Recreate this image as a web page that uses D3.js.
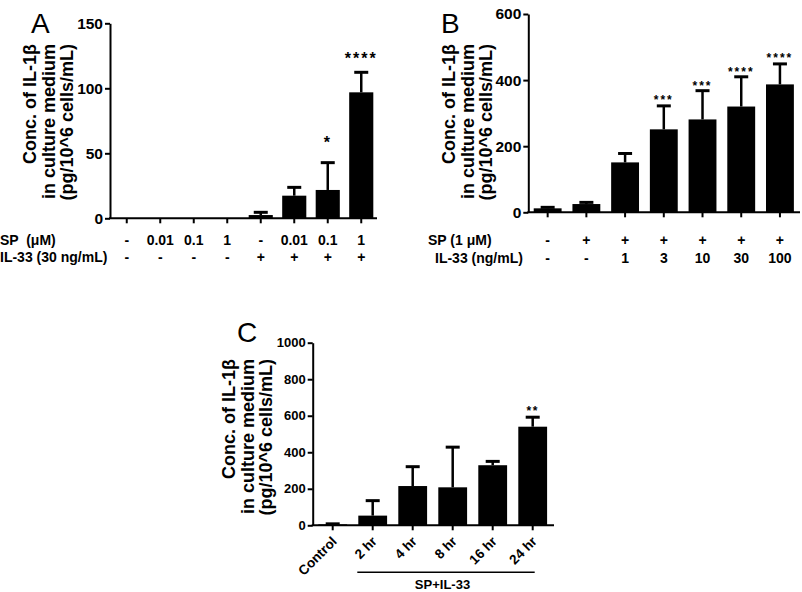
<!DOCTYPE html>
<html><head><meta charset="utf-8">
<script src="https://cdn.jsdelivr.net/npm/d3@7"></script>
<style>
body{margin:0;background:#fff}
svg text{font-family:"Liberation Sans",Arial,sans-serif;fill:#000}
</style>
</head><body>
<svg id="chart" width="802" height="592"></svg>
<script>
// ---------- DATA ----------
const yTitle = ["Conc. of IL-1β", "in culture medium", "(pg/10^6 cells/mL)"];

// Panel A
const aSP    = ["-", "0.01", "0.1", "1", "-", "0.01", "0.1", "1"];
const aIL33  = ["-", "-", "-", "-", "+", "+", "+", "+"];
const aMean  = [0, 0, 0, 0, 2.5, 17.4, 21.8, 96.9];
const aUpper = [0, 0, 0, 0, 4.6, 23.8, 42.8, 112.3];
const aStars = ["", "", "", "", "", "", "*", "****"];
const aStarLevel = [0, 0, 0, 0, 0, 0, 62, 126];
const aTicks = [0, 50, 100, 150];

// Panel B
const bSP    = ["-", "+", "+", "+", "+", "+", "+"];
const bIL33  = ["-", "-", "1", "3", "10", "30", "100"];
const bMean  = [12, 25, 151, 251, 281, 320, 387];
const bUpper = [15, 30, 178, 322, 368, 410, 449];
const bStars = ["", "", "", "***", "***", "****", "****"];
const bStarLevel = [0, 0, 0, 348, 393, 434, 476];
const bTicks = [0, 200, 400, 600];

// Panel C
const cLabels = ["Control", "2 hr", "4 hr", "8 hr", "16 hr", "24 hr"];
const cMean  = [5, 53, 215, 208, 329, 540];
const cUpper = [8, 135, 321, 428, 350, 592];
const cStars = ["", "", "", "", "", "**"];
const cStarLevel = [0, 0, 0, 0, 0, 646];
const cTicks = [0, 200, 400, 600, 800, 1000];
const cGroupLabel = "SP+IL-33";

// ---------- DRAW ----------
const svg = d3.select("#chart");

function panel(o) {
  const g = svg.append("g");
  const n = o.mean.length;
  const x = d3.scaleBand().domain(d3.range(n)).range([o.x0, o.x1])
    .paddingInner(0.28).paddingOuter(0.14);
  const y = d3.scaleLinear().domain([0, o.ymax]).range([o.yb, o.yt]);

  // bars
  g.selectAll("rect.bar").data(o.mean).join("rect")
    .attr("x", (d, i) => x(i)).attr("width", x.bandwidth())
    .attr("y", d => y(d)).attr("height", d => y(0) - y(d))
    .attr("fill", "#000");
  // error bars
  o.upper.forEach((u, i) => {
    if (u <= o.mean[i]) return;
    const cx = x(i) + x.bandwidth() / 2;
    g.append("line").attr("x1", cx).attr("x2", cx)
      .attr("y1", y(o.mean[i])).attr("y2", y(u))
      .attr("stroke", "#000").attr("stroke-width", 2.5);
    g.append("line").attr("x1", cx - 7).attr("x2", cx + 7)
      .attr("y1", y(u)).attr("y2", y(u))
      .attr("stroke", "#000").attr("stroke-width", 3);
  });
  // stars
  o.stars.forEach((s, i) => {
    if (!s) return;
    g.append("text").attr("x", x(i) + x.bandwidth() / 2)
      .attr("y", y(o.starLevel[i])).attr("dy", o.starDy)
      .attr("text-anchor", "middle").attr("font-size", o.starSize)
      .attr("font-weight", "bold").attr("letter-spacing", o.starLs)
      .text(s);
  });

  // y axis
  const ya = g.append("g").attr("transform", `translate(${o.x0},0)`)
    .call(d3.axisLeft(y).tickValues(o.ticks).tickFormat(d3.format("d"))
      .tickSize(5).tickSizeOuter(0).tickPadding(2));
  ya.select(".domain").attr("stroke-width", 2);
  ya.selectAll(".tick line").attr("stroke-width", 2);
  ya.selectAll(".tick text")
    .style("font-size", o.tickSize + "px").style("font-weight", "bold");

  // x axis
  g.append("line").attr("x1", o.x0 - 1).attr("x2", o.xAxisEnd)
    .attr("y1", y(0)).attr("y2", y(0)).attr("stroke", "#000").attr("stroke-width", 2);
  d3.range(n).forEach(i => {
    const cx = x(i) + x.bandwidth() / 2;
    g.append("line").attr("x1", cx).attr("x2", cx)
      .attr("y1", y(0)).attr("y2", y(0) + 5).attr("stroke", "#000").attr("stroke-width", 2);
  });

  // y title
  yTitle.forEach((t, k) => {
    g.append("text")
      .attr("transform", `translate(${o.titleX + k * 18.5},${o.titleTop}) rotate(-90)`)
      .attr("text-anchor", "end").attr("dy", "0.35em")
      .attr("font-size", 18).attr("font-weight", "bold").text(t);
  });
  // panel letter
  g.append("text").attr("x", o.letterX).attr("y", o.letterY)
    .attr("font-size", 28).text(o.letter);
  return {x, y};
}

// Panel A
const A = panel({x0: 110, x1: 378, xAxisEnd: 377, yb: 218.3, yt: 23.3, ymax: 150,
  mean: aMean, upper: aUpper, stars: aStars, starLevel: aStarLevel, starDy: "0.62em",
  starSize: 16, starLs: 2, ticks: aTicks, tickSize: 15.5,
  titleX: 30, titleTop: 44, letter: "A", letterX: 31, letterY: 33});
[[aSP, 245], [aIL33, 262]].forEach(([arr, yy]) => {
  arr.forEach((t, i) => {
    svg.append("text").attr("x", A.x(i) + A.x.bandwidth() / 2).attr("y", yy)
      .attr("text-anchor", "middle").attr("font-size", 14).attr("font-weight", "bold").text(t);
  });
});
svg.append("text").attr("x", 0).attr("y", 245).attr("font-size", 14).attr("font-weight", "bold")
  .style("white-space", "pre").text("SP  (μM)");
svg.append("text").attr("x", 0).attr("y", 262).attr("font-size", 14).attr("font-weight", "bold")
  .text("IL-33 (30 ng/mL)");

// Panel B
const B = panel({x0: 528.3, x1: 799.3, xAxisEnd: 800, yb: 212.3, yt: 14, ymax: 600,
  mean: bMean, upper: bUpper, stars: bStars, starLevel: bStarLevel, starDy: "0.6em",
  starSize: 12, starLs: 2, ticks: bTicks, tickSize: 15.5,
  titleX: 449, titleTop: 44, letter: "B", letterX: 441, letterY: 33});
[[bSP, 244.5], [bIL33, 262.5]].forEach(([arr, yy]) => {
  arr.forEach((t, i) => {
    svg.append("text").attr("x", B.x(i) + B.x.bandwidth() / 2).attr("y", yy)
      .attr("text-anchor", "middle").attr("font-size", 14).attr("font-weight", "bold").text(t);
  });
});
svg.append("text").attr("x", 428).attr("y", 244.5).attr("font-size", 14).attr("font-weight", "bold")
  .text("SP (1 μM)");
svg.append("text").attr("x", 435).attr("y", 262.5).attr("font-size", 14).attr("font-weight", "bold")
  .text("IL-33 (ng/mL)");

// Panel C
const C = panel({x0: 312.7, x1: 552.7, xAxisEnd: 554, yb: 525.3, yt: 342.7, ymax: 1000,
  mean: cMean, upper: cUpper, stars: cStars, starLevel: cStarLevel, starDy: "0.6em",
  starSize: 12, starLs: 1.5, ticks: cTicks, tickSize: 13,
  titleX: 229, titleTop: 359, letter: "C", letterX: 237, letterY: 342});
cLabels.forEach((t, i) => {
  const cx = C.x(i) + C.x.bandwidth() / 2;
  svg.append("text").attr("transform", `translate(${cx + 5},${C.y(0) + 17}) rotate(-45)`)
    .attr("text-anchor", "end").attr("font-size", 13.5).attr("font-weight", "bold").text(t);
});
const lx1 = C.x(1) - 1, lx2 = C.x(5) + C.x.bandwidth() / 2 + 2;
svg.append("line").attr("x1", lx1).attr("x2", lx2).attr("y1", 572.3).attr("y2", 572.3)
  .attr("stroke", "#000").attr("stroke-width", 1.5);
svg.append("text").attr("x", 442.5).attr("y", 589).attr("text-anchor", "middle")
  .attr("font-size", 13).attr("font-weight", "bold").text(cGroupLabel);
</script>
</body></html>
